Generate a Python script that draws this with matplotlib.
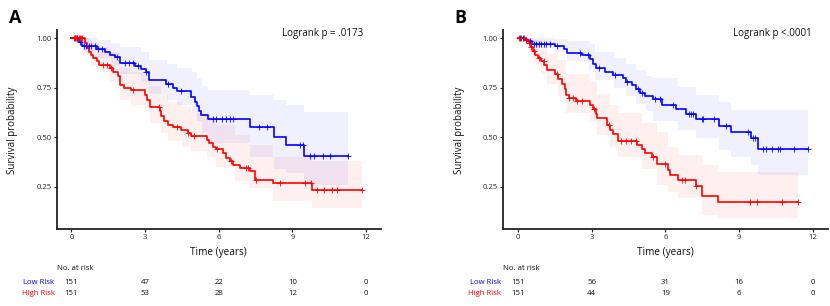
import numpy as np
import matplotlib
matplotlib.use("Agg")
import matplotlib.pyplot as plt
from matplotlib.transforms import blended_transform_factory

plt.rcParams['font.family'] = ['Open Sans', 'DejaVu Sans']

# ---------------- DATA ----------------
# Panel A
a_low_t = [0.3, 0.45, 1.03, 1.37, 1.57, 1.77, 2.0, 2.61, 2.84, 3.02, 3.15, 3.86, 4.13, 4.3, 4.88, 5.02,
           5.11, 5.2, 5.28, 5.55, 7.28, 8.25, 8.73, 9.49]
a_low_s = [0.98, 0.96, 0.945, 0.93, 0.914, 0.903, 0.877, 0.858, 0.845, 0.828, 0.787, 0.768, 0.748, 0.731,
           0.705, 0.68, 0.657, 0.633, 0.61, 0.592, 0.549, 0.503, 0.458, 0.402]
a_low_end = 11.28
a_low_cens = [0.15, 0.25, 0.35, 0.5, 0.6, 0.7, 0.8, 0.95, 1.1, 1.25, 1.85, 2.2, 2.35, 2.5, 2.7, 3.05, 3.95,
              4.45, 5.75, 5.9, 6.15, 6.3, 6.45, 6.6, 7.65, 7.95, 9.3, 9.45, 9.7, 9.9, 10.25, 10.55, 11.28]
a_low_band_t = [0, 0.45, 1.03, 1.6, 2.0, 2.85, 3.15, 3.9, 4.3, 4.9, 5.1, 5.3, 5.55, 7.28, 8.25, 8.73, 9.49]
a_low_band_lo = [0.99, 0.93, 0.90, 0.86, 0.82, 0.78, 0.72, 0.69, 0.66, 0.62, 0.58, 0.52, 0.47, 0.40, 0.34,
                 0.317, 0.258]
a_low_band_hi = [1.0, 1.0, 0.99, 0.975, 0.955, 0.93, 0.89, 0.87, 0.848, 0.83, 0.80, 0.76, 0.74, 0.714,
                 0.689, 0.66, 0.626]

a_high_t = [0.55, 0.63, 0.7, 0.79, 0.9, 1.03, 1.14, 1.57, 1.7, 1.9, 2.0, 2.14, 2.42, 2.99, 3.07, 3.19, 3.6,
            3.66, 3.76, 3.95, 4.15, 4.48, 4.75, 4.88, 5.51, 5.62, 5.75, 5.9, 6.19, 6.3, 6.47, 6.58, 6.88,
            7.28, 7.48, 8.2, 9.79]
a_high_s = [0.975, 0.951, 0.93, 0.917, 0.9, 0.883, 0.866, 0.849, 0.832, 0.807, 0.762, 0.748, 0.736, 0.712,
            0.689, 0.652, 0.63, 0.605, 0.58, 0.562, 0.55, 0.537, 0.523, 0.506, 0.486, 0.468, 0.452, 0.44,
            0.418, 0.393, 0.377, 0.36, 0.346, 0.326, 0.283, 0.267, 0.233]
a_high_end = 11.82
a_high_cens = [0.1, 0.15, 0.2, 0.25, 0.3, 0.35, 0.4, 0.45, 1.3, 1.45, 1.6, 2.5, 3.55, 4.3, 4.75, 5.0, 5.95,
               6.5, 7.1, 7.2, 7.5, 8.5, 9.5, 9.75, 10.0, 10.3, 10.6, 10.8, 11.82]
a_high_band_t = [0, 0.55, 0.8, 1.03, 1.57, 2.0, 2.42, 2.99, 3.19, 3.66, 3.95, 4.5, 4.88, 5.51, 5.9, 6.66,
                 7.28, 8.2, 9.79]
a_high_band_lo = [0.99, 0.92, 0.86, 0.83, 0.78, 0.69, 0.66, 0.63, 0.57, 0.52, 0.48, 0.45, 0.43, 0.40, 0.35,
                  0.28, 0.245, 0.175, 0.14]
a_high_band_hi = [1.0, 1.0, 0.98, 0.955, 0.93, 0.85, 0.83, 0.80, 0.76, 0.72, 0.68, 0.65, 0.62, 0.60, 0.56,
                  0.51, 0.46, 0.40, 0.377]

# Panel B
b_low_t = [0.3, 0.43, 0.57, 1.52, 1.9, 2.0, 2.6, 2.94, 3.05, 3.17, 3.55, 3.89, 4.3, 4.4, 4.64, 4.8, 4.98,
           5.18, 5.5, 5.88, 6.42, 6.83, 7.24, 8.19, 8.68, 9.47, 9.78]
b_low_s = [0.993, 0.985, 0.972, 0.96, 0.945, 0.928, 0.915, 0.894, 0.872, 0.848, 0.83, 0.813, 0.797, 0.78,
           0.763, 0.742, 0.724, 0.707, 0.692, 0.662, 0.642, 0.615, 0.591, 0.556, 0.524, 0.494, 0.44]
b_low_end = 11.8
b_low_cens = [0.1, 0.2, 0.35, 0.5, 0.65, 0.75, 0.85, 0.95, 1.05, 1.15, 1.3, 1.6, 2.55, 2.85, 3.3, 3.95, 4.45,
              4.9, 5.05, 5.6, 5.79, 6.33, 6.95, 7.05, 7.12, 7.48, 7.55, 8.0, 8.46, 9.38, 9.55, 9.66, 9.99,
              10.1, 10.33, 10.6, 10.67, 11.25, 11.8]
b_low_band_t = [0, 0.5, 1.5, 2.0, 2.9, 3.15, 3.9, 4.4, 4.8, 5.2, 5.5, 6.5, 7.24, 8.19, 8.68, 9.47, 9.78]
b_low_band_lo = [0.99, 0.95, 0.93, 0.885, 0.84, 0.79, 0.75, 0.71, 0.67, 0.63, 0.58, 0.536, 0.494, 0.435,
                 0.40, 0.36, 0.308]
b_low_band_hi = [1.0, 1.0, 0.995, 0.985, 0.97, 0.93, 0.90, 0.87, 0.84, 0.81, 0.80, 0.756, 0.712, 0.68,
                 0.637, 0.637, 0.637]

b_high_t = [0.3, 0.45, 0.55, 0.64, 0.72, 0.82, 0.94, 1.07, 1.18, 1.52, 1.65, 1.8, 1.93, 1.98, 2.1, 2.35,
            2.95, 3.08, 3.18, 3.24, 3.65, 3.76, 3.88, 4.08, 4.84, 5.04, 5.18, 5.48, 5.65, 6.13, 6.2, 6.52,
            7.24, 7.48, 8.16]
b_high_s = [0.99, 0.975, 0.958, 0.935, 0.915, 0.9, 0.885, 0.864, 0.84, 0.821, 0.796, 0.77, 0.745, 0.715,
            0.697, 0.685, 0.665, 0.64, 0.615, 0.595, 0.56, 0.538, 0.515, 0.48, 0.462, 0.44, 0.42, 0.4, 0.366,
            0.335, 0.308, 0.283, 0.254, 0.2, 0.17]
b_high_end = 11.39
b_high_cens = [0.05, 0.15, 0.25, 0.35, 0.45, 0.55, 0.65, 0.85, 1.05, 1.6, 2.1, 2.25, 2.4, 2.6, 3.1, 3.7, 4.2,
               4.4, 4.6, 4.8, 5.5, 6.0, 6.68, 6.8, 7.25, 9.45, 9.75, 10.74, 11.39]
b_high_band_t = [0, 0.45, 0.64, 0.94, 1.18, 1.65, 1.98, 2.95, 3.24, 3.76, 4.08, 5.04, 5.65, 6.13, 6.52,
                 7.48, 8.16]
b_high_band_lo = [0.99, 0.93, 0.87, 0.82, 0.77, 0.71, 0.62, 0.58, 0.51, 0.45, 0.40, 0.34, 0.26, 0.22, 0.19,
                  0.107, 0.09]
b_high_band_hi = [1.0, 1.0, 0.99, 0.96, 0.92, 0.89, 0.82, 0.78, 0.72, 0.66, 0.62, 0.57, 0.527, 0.45, 0.41,
                  0.36, 0.322]

risk_times = [0, 3, 6, 9, 12]
a_low_risk = [151, 47, 22, 10, 0]
a_high_risk = [151, 53, 28, 12, 0]
b_low_risk = [151, 56, 31, 16, 0]
b_high_risk = [151, 44, 19, 6, 0]

group_labels = ["Low Risk", "High Risk"]
panel_labels = ["A", "B"]
pvals = ["Logrank p = .0173", "Logrank p <.0001"]
x_ticks = [0, 3, 6, 9, 12]
y_ticks = [0.25, 0.50, 0.75, 1.00]
y_ticklabels = ["0.25", "0.50", "0.75", "1.00"]

# ---------------- PLOT ----------------
BLUE = "#0000FF"
RED = "#FF0000"

W, H = 830, 306
fig = plt.figure(figsize=(W / 100, H / 100), dpi=100)

xlim = (-0.6, 12.6)
ylim = (0.0335, 1.04)
ax_specs = [(56.6, 380.8), (503.0, 827.5)]
ax_bottom_px, ax_top_px = 229.3, 30.4


def step_xy(t, s, end):
    x = np.concatenate([[0.0], np.asarray(t, float), [end]])
    y = np.concatenate([[1.0], np.asarray(s, float), [s[-1]]])
    return x, y


def surv_at(t, s, times):
    t = np.asarray(t)
    s = np.asarray(s)
    idx = np.searchsorted(t, np.asarray(times), side='right') - 1
    return np.where(idx < 0, 1.0, s[np.clip(idx, 0, None)])


def draw_curve(ax, t, s, end, cens, bt, blo, bhi, color):
    bx = np.append(np.asarray(bt, float), end)
    ax.fill_between(bx, np.append(blo, blo[-1]), np.append(bhi, bhi[-1]), step='post',
                    color=color, alpha=0.06, lw=0)
    x, y = step_xy(t, s, end)
    ax.step(x, y, where='post', color=color, lw=1.2, zorder=3)
    ax.plot(cens, surv_at(t, s, cens), ls='none', marker='+', color=color, ms=4, mew=0.6, zorder=4)


panels = [
    dict(low=(a_low_t, a_low_s, a_low_end, a_low_cens, a_low_band_t, a_low_band_lo, a_low_band_hi),
         high=(a_high_t, a_high_s, a_high_end, a_high_cens, a_high_band_t, a_high_band_lo, a_high_band_hi),
         risk=(a_low_risk, a_high_risk)),
    dict(low=(b_low_t, b_low_s, b_low_end, b_low_cens, b_low_band_t, b_low_band_lo, b_low_band_hi),
         high=(b_high_t, b_high_s, b_high_end, b_high_cens, b_high_band_t, b_high_band_lo, b_high_band_hi),
         risk=(b_low_risk, b_high_risk)),
]

for i, (spec, p) in enumerate(zip(ax_specs, panels)):
    l, r = spec
    ax = fig.add_axes([l / W, 1 - ax_bottom_px / H, (r - l) / W, (ax_bottom_px - ax_top_px) / H])
    draw_curve(ax, *p['low'], BLUE)
    draw_curve(ax, *p['high'], RED)
    ax.set_xlim(*xlim)
    ax.set_ylim(*ylim)
    ax.set_xticks(x_ticks)
    ax.set_yticks(y_ticks)
    ax.set_yticklabels(y_ticklabels)
    for sp in ['top', 'right']:
        ax.spines[sp].set_visible(False)
    for sp in ['left', 'bottom']:
        ax.spines[sp].set_linewidth(1.3)
        ax.spines[sp].set_color('#222222')
    ax.tick_params(axis='both', length=2.2, width=0.8, labelsize=5.5, pad=1.5, colors='#222222')

    # p-value
    ax.text(0.945 if i == 0 else 0.95, 1 - (33.3 - ax_top_px) / (ax_bottom_px - ax_top_px), pvals[i],
            transform=ax.transAxes, ha='right', va='center', fontsize=7, color='#111111')

    # axis labels
    cx = (l + r) / 2 / W
    fig.text(cx, 1 - 252 / H, "Time (years)", ha='center', va='center', fontsize=7.2, color='#111111')
    fig.text((13 if i == 0 else 459) / W, 1 - 130 / H, "Survival probability", rotation=90,
             ha='center', va='center', fontsize=7, color='#111111')

    # panel label
    fig.text((15 if i == 0 else 460) / W, 1 - 18 / H, panel_labels[i], ha='center', va='center',
             fontsize=13, fontweight='bold', color='black')

    # risk table
    tr = blended_transform_factory(ax.transData, fig.transFigure)
    fig.text(l / W, 1 - 269 / H, "No. at risk", ha='left', va='center', fontsize=5.6, color='#111111')
    lab_x = (54.5 if i == 0 else 501) / W
    for j, (lab, col, rows) in enumerate(zip(group_labels, [BLUE, RED], p['risk'])):
        yy = 1 - (282.7 if j == 0 else 293.3) / H
        fig.text(lab_x, yy, lab, ha='right', va='center', fontsize=5.6, color=col)
        for tx, n in zip(risk_times, rows):
            ax.text(tx, yy, str(n), transform=tr, ha='center', va='center', fontsize=5.6, color='#111111')

fig.savefig("out.png", dpi=100)
